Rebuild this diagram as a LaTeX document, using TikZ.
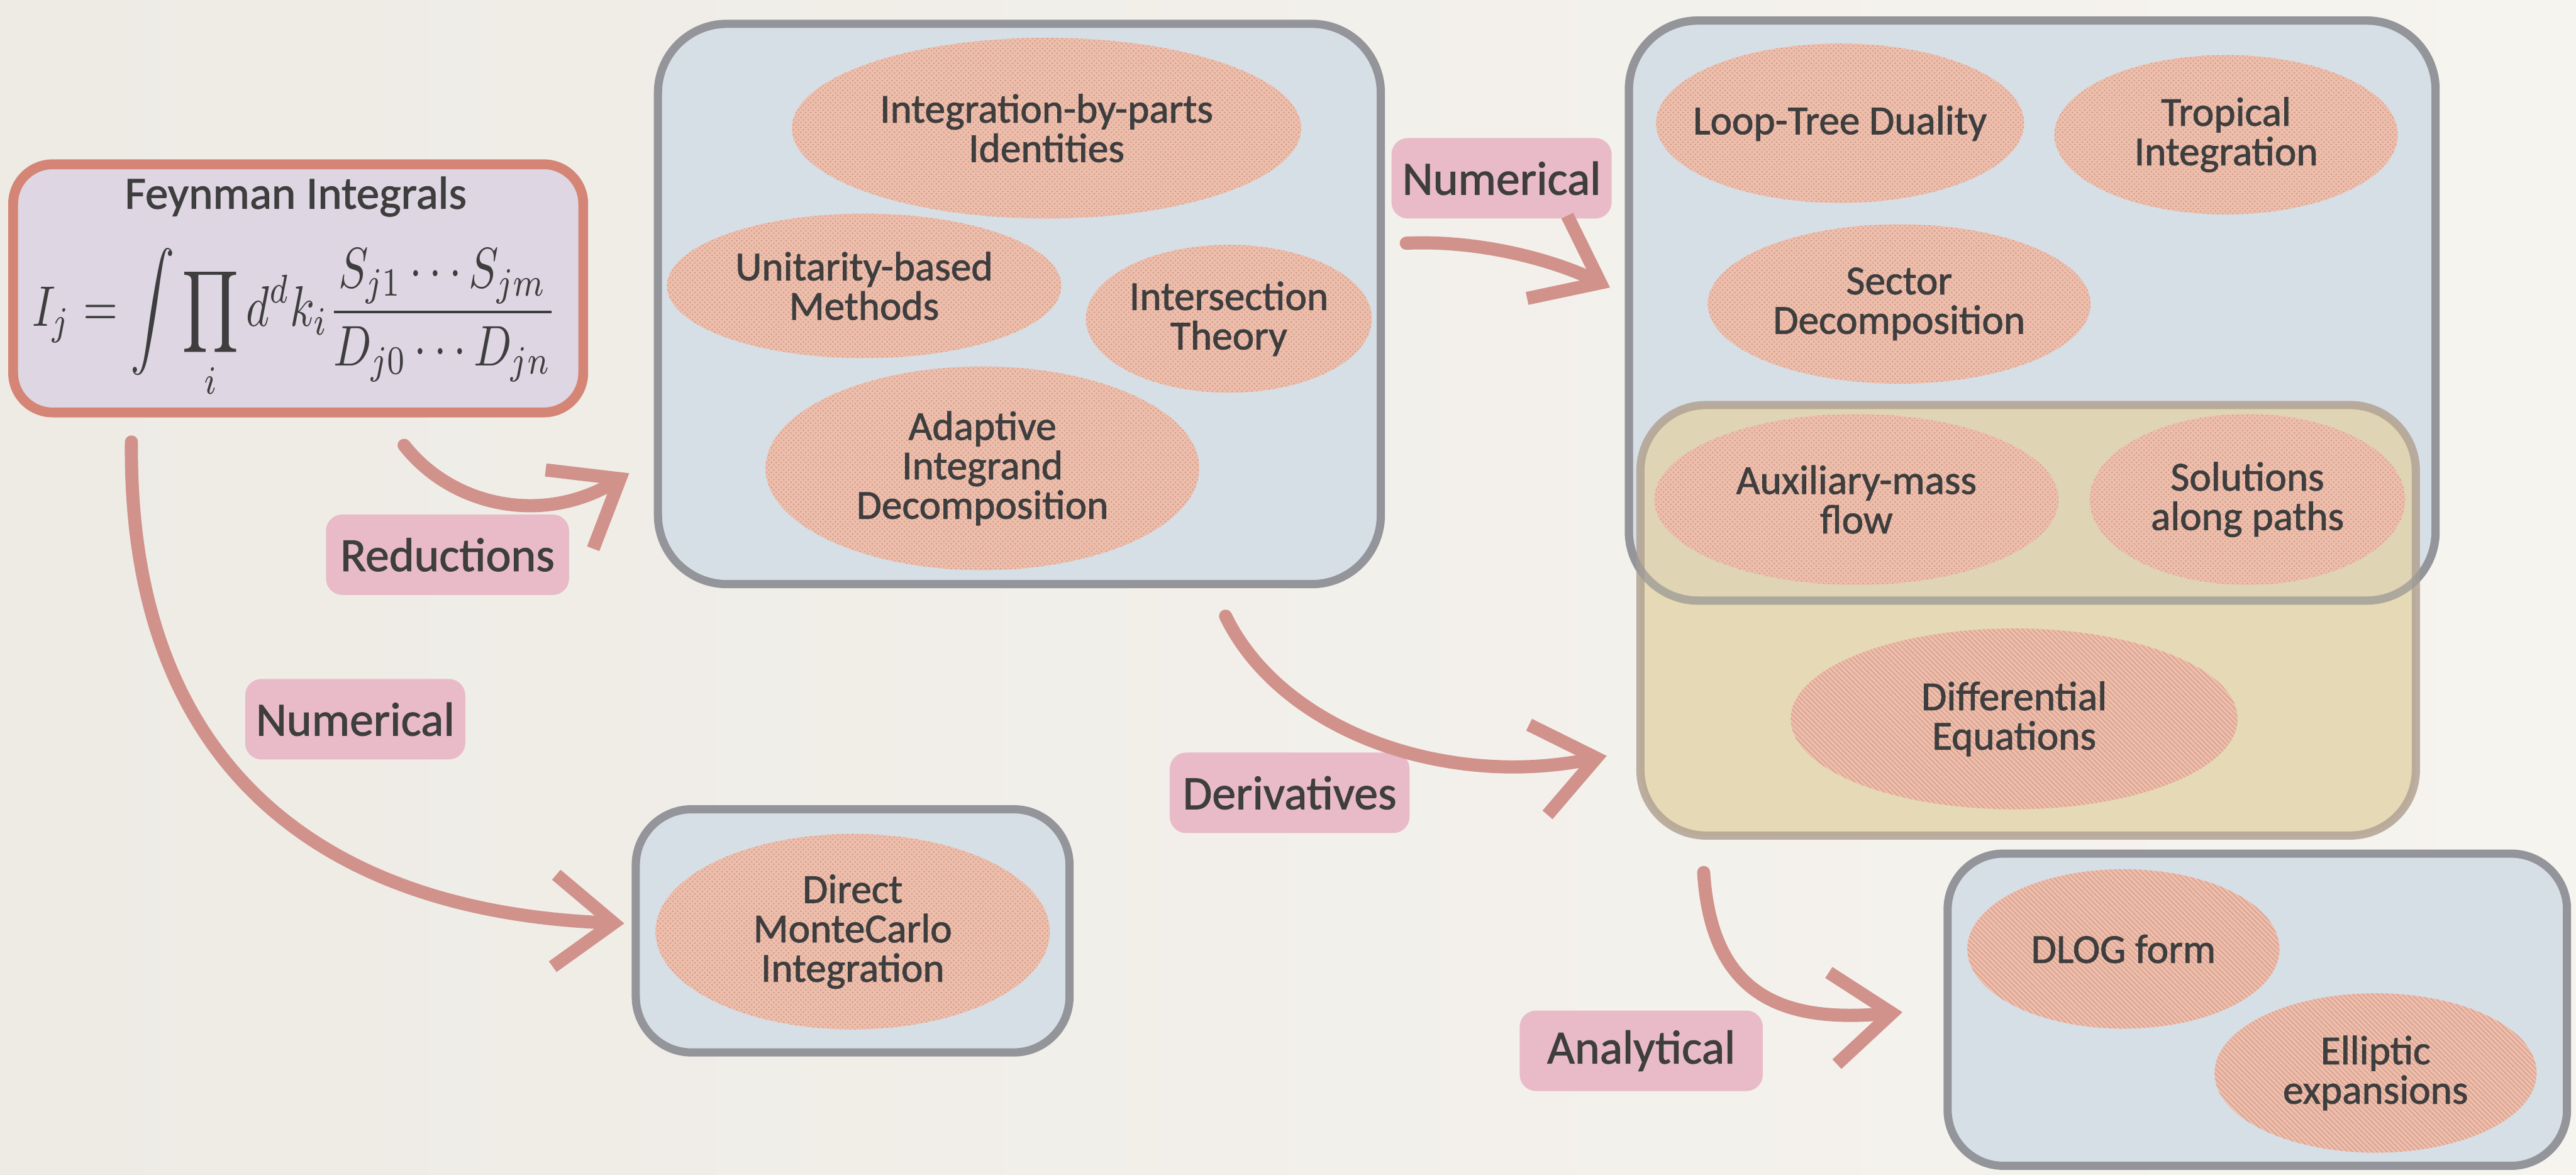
\documentclass[tikz,border=0pt]{standalone}
\usepackage{fontspec}
\setmainfont{Carlito}
\newfontfamily\chalk{Carlito}[FakeBold=1.3]
\usepackage{graphicx}
\usetikzlibrary{shapes.geometric,arrows.meta,patterns}
\definecolor{bgL}{RGB}{238,235,229}
\definecolor{bgR}{RGB}{246,244,239}
\definecolor{txt}{RGB}{62,62,62}
\definecolor{feynfill}{RGB}{222,214,226}
\definecolor{feynline}{RGB}{213,133,117}
\definecolor{boxblue}{RGB}{215,223,230}
\definecolor{boxline}{RGB}{148,149,154}
\definecolor{yfill}{RGB}{226,209,163}
\definecolor{yline}{RGB}{178,163,148}
\definecolor{ellfill}{RGB}{236,190,172}
\definecolor{elldot}{RGB}{214,148,132}
\definecolor{labpink}{RGB}{233,187,201}
\definecolor{arrcol}{RGB}{209,146,139}
\tikzset{
  bluebox/.style={draw=boxline, line width=5pt, fill=boxblue, inner sep=0pt},
  ell/.style={ellipse, fill=ellfill, postaction={pattern=crosshatch dots, pattern color=elldot}, inner sep=0pt, outer sep=0pt},
  ellL/.style={ellipse, fill=ellfill, postaction={pattern=north west lines, pattern color=elldot}, inner sep=0pt, outer sep=0pt},
  etxt/.style={text=txt, align=center, font=\chalk\fontsize{25pt}{24pt}\selectfont, inner sep=0pt},
  lab/.style={fill=labpink, rounded corners=10pt, text=txt, font=\chalk\fontsize{29pt}{29pt}\selectfont, inner sep=0pt, minimum height=49pt},
  arr/.style={draw=arrcol, line width=8pt, line cap=round, -{Straight Barb[length=36pt,width=56pt]}}
}
\begin{document}
\begin{tikzpicture}[x=1pt,y=-1pt]
\useasboundingbox (0,0) rectangle (1568,715);
\shade[left color=bgL, right color=bgR] (0,0) rectangle (1568,715);

% Feynman box
\node[draw=feynline, fill=feynfill, line width=6pt, rounded corners=24pt, minimum width=347pt, minimum height=151pt, inner sep=0pt] (feyn) at (181.5,175.5) {};
\node[anchor=base, text=txt, font=\chalk\fontsize{28pt}{28pt}\selectfont, inner sep=0pt] (ftitle) at (180,127) {Feynman Integrals};
\node[anchor=north west, inner sep=0pt, text=txt] (form) at (19.6,151) {\resizebox*{319pt}{92pt}{$\displaystyle I_j=\int\prod_i d^d k_i\frac{S_{j1}\cdots S_{jm}}{D_{j0}\cdots D_{jn}}$}};

% containers
\node[bluebox, rounded corners=42pt, minimum width=440pt, minimum height=341pt] (redbox) at (620.5,185) {};
\node[bluebox, rounded corners=42pt, minimum width=491pt, minimum height=353pt] (numbox) at (1237,189) {};
\node[bluebox, rounded corners=34pt, minimum width=264pt, minimum height=148pt] (mcbox) at (519,566.5) {};
\node[bluebox, rounded corners=34pt, minimum width=377pt, minimum height=190pt] (anbox) at (1374,614.5) {};
\node[draw=yline, fill=yfill, fill opacity=0.74, draw opacity=0.85, line width=5pt, rounded corners=40pt, minimum width=472pt, minimum height=262pt, inner sep=0pt] (deqbox) at (1234.5,377.5) {};
\node[draw=boxline, draw opacity=0.55, line width=5pt, rounded corners=42pt, minimum width=491pt, minimum height=353pt, inner sep=0pt] (numboxb) at (1237,189) {};

% ellipses: reductions
\node[ell, minimum width=310pt, minimum height=110pt] (ibp) at (637,78) {};
\node[etxt] (ibpT) at (ibp.center) {Integration-by-parts\\Identities};
\node[ell, minimum width=240pt, minimum height=88pt] (uni) at (526,174) {};
\node[etxt] (uniT) at (uni.center) {Unitarity-based\\Methods};
\node[ell, minimum width=174pt, minimum height=90pt] (ins) at (748,194) {};
\node[etxt] (insT) at (ins.center) {Intersection\\Theory};
\node[ell, minimum width=264pt, minimum height=124pt] (aid) at (598,285) {};
\node[etxt] (aidT) at (aid.center) {Adaptive\\Integrand\\Decomposition};

% ellipses: numerical
\node[ell, minimum width=224pt, minimum height=97pt] (ltd) at (1120,75) {};
\node[etxt] (ltdT) at (ltd.center) {Loop-Tree Duality};
\node[ell, minimum width=209pt, minimum height=97pt] (trop) at (1355,82) {};
\node[etxt] (tropT) at (trop.center) {Tropical\\Integration};
\node[ell, minimum width=233pt, minimum height=97pt] (sec) at (1156,185) {};
\node[etxt] (secT) at (sec.center) {Sector\\Decomposition};
\node[ell, minimum width=246pt, minimum height=104pt] (amf) at (1130,304) {};
\node[etxt] (amfT) at (amf.center) {Auxiliary-mass\\flow};
\node[ell, minimum width=192pt, minimum height=104pt] (sol) at (1368,304) {};
\node[etxt] (solT) at (sol.center) {Solutions\\along paths};

% differential equations
\node[ellL, minimum width=272pt, minimum height=110pt] (deq) at (1226,437.5) {};
\node[etxt] (deqT) at (deq.center) {Differential\\Equations};

% monte carlo
\node[ell, minimum width=240pt, minimum height=119pt] (mc) at (519,567) {};
\node[etxt] (mcT) at (mc.center) {Direct\\MonteCarlo\\Integration};

% analytical
\node[ellL, minimum width=190pt, minimum height=97pt] (dlog) at (1292.5,577.5) {};
\node[etxt] (dlogT) at (dlog.center) {DLOG form};
\node[ellL, minimum width=196pt, minimum height=97pt] (ellp) at (1446,653) {};
\node[etxt] (ellpT) at (ellp.center) {Elliptic\\expansions};

% labels
\node[lab, minimum width=148pt] (lred) at (272.4,337.6) {Reductions};
\node[lab, minimum width=134pt] (lnum1) at (216.2,437.7) {Numerical};
\node[lab, minimum width=134pt] (lnum2) at (914,108.5) {Numerical};
\node[lab, minimum width=146pt] (lder) at (785,482.5) {Derivatives};
\node[lab, minimum width=148pt] (lana) at (999,639.5) {Analytical};

% arrows
\coordinate (aS) at (246,271); \coordinate (aE) at (383,288);
\coordinate (bS) at (80,269);  \coordinate (bE) at (380,562);
\coordinate (cS) at (856,148); \coordinate (cE) at (980,175);
\coordinate (dS) at (746,375); \coordinate (dE) at (978,460);
\coordinate (eS) at (1037,531); \coordinate (eE) at (1158,616);
\draw[arr] (aS) .. controls (275,308) and (330,320) .. (aE);
\draw[arr] (bS) .. controls (78,470) and (200,555) .. (bE);
\draw[arr] (cS) .. controls (900,146) and (945,158) .. (cE);
\draw[arr] (dS) .. controls (780,445) and (880,480) .. (dE);
\draw[arr] (eS) .. controls (1042,610) and (1090,622) .. (eE);
\end{tikzpicture}
\end{document}
